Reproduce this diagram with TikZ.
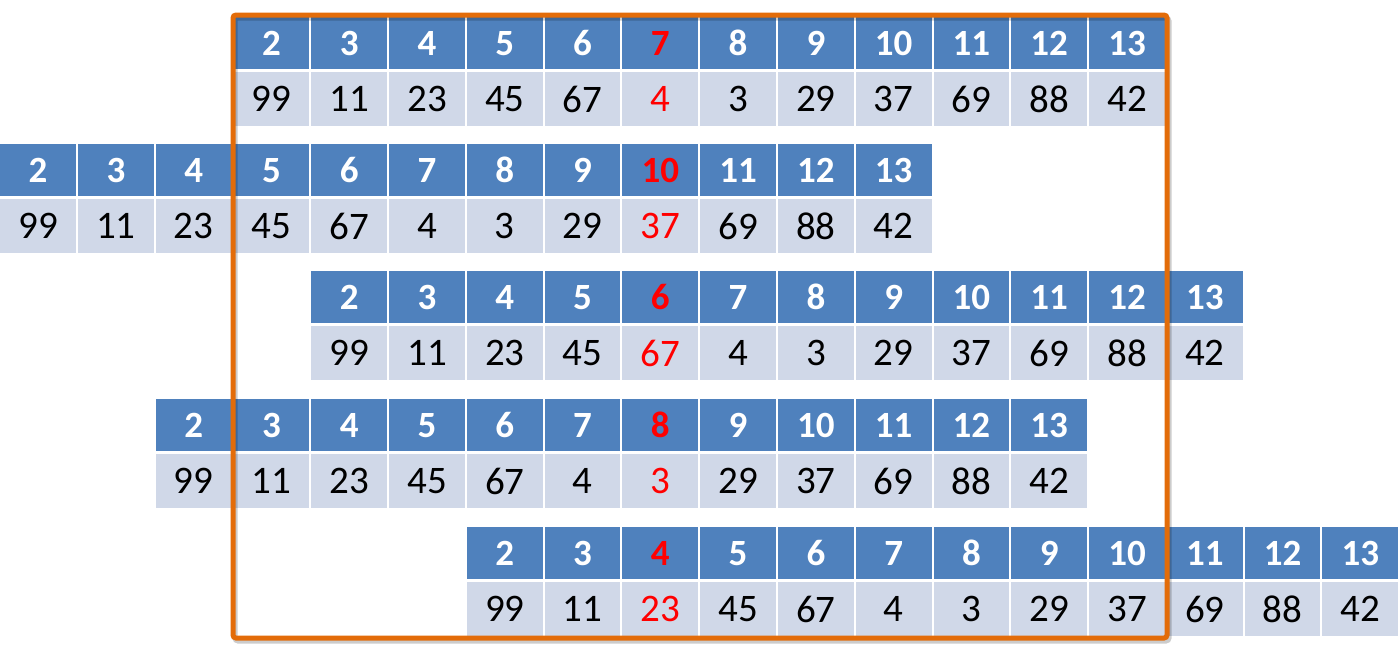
\documentclass[tikz,border=0pt]{standalone}
\usepackage{fontspec}
\setmainfont{Carlito}
\definecolor{hdr}{HTML}{4F81BD}
\definecolor{dat}{HTML}{D0D8E8}
\definecolor{frm}{HTML}{E36C09}
\begin{document}
\begin{tikzpicture}[x=1pt,y=-1pt,
  cellh/.style={fill=hdr, minimum width=75.8pt, minimum height=52pt, inner sep=0pt, anchor=north west, font=\fontsize{37}{37}\selectfont\bfseries},
  celld/.style={fill=dat, minimum width=75.8pt, minimum height=54pt, inner sep=0pt, anchor=north west, font=\fontsize{39}{39}\selectfont}]
\useasboundingbox (0,0) rectangle (1400,654);
\def\vals{99,11,23,45,67,4,3,29,37,69,88,42}
\foreach \r/\off/\y/\hl in {1/3/17/5, 2/0/144/8, 3/4/271/4, 4/2/399/6, 5/6/527/2} {
  \foreach \v [count=\i from 0] in \vals {
    \pgfmathsetmacro\xx{(\off+\i)*77.778}
    \pgfmathsetmacro\yy{\y+55}
    \pgfmathtruncatemacro\lab{\i+2}
    \def\hc{white}\def\dc{black}
    \ifnum\i=\hl\relax\def\hc{red}\def\dc{red}\fi
    \node[cellh, text=\hc] (h\r-\lab) at (\xx,\y) {\lab};
    \node[celld, text=\dc] (d\r-\lab) at (\xx,\yy) {\v};
  }
}
\draw[black, opacity=0.2, line width=5pt, rounded corners=3pt] (235,18) rectangle (1169,641);
\draw[frm, line width=5pt, rounded corners=3pt] (233,15) rectangle (1167,638);
\end{tikzpicture}
\end{document}
